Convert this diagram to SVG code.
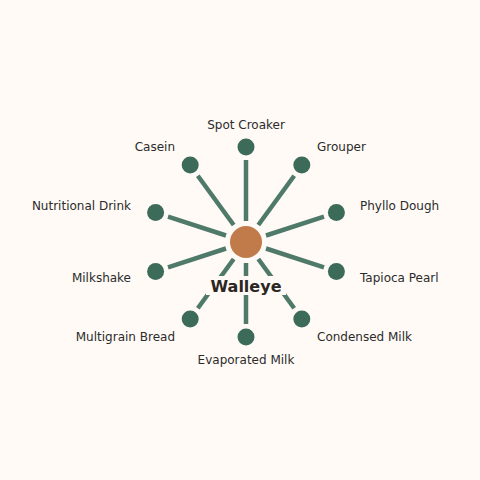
<svg xmlns="http://www.w3.org/2000/svg" width="480" height="480" viewBox="0 0 480 480">
<style>
.sp{stroke:#4f7a6a;stroke-width:4.5;stroke-linecap:butt}
.nd{fill:#3d6b5a}
.lb{font-family:"DejaVu Sans",sans-serif;font-size:12px;fill:#2b2b2b}
.ctr{font-family:"DejaVu Sans",sans-serif;font-size:16px;font-weight:bold;fill:#2b2622}
</style>
<rect width="480" height="480" fill="#fffaf6"/>
<g id="connectors">
<line class="sp" x1="246" y1="221" x2="246" y2="160"/>
<line class="sp" x1="258.3" y1="225" x2="294.2" y2="175.7"/>
<line class="sp" x1="266" y1="235.5" x2="324" y2="216.7"/>
<line class="sp" x1="266" y1="248.5" x2="324" y2="267.3"/>
<line class="sp" x1="258.3" y1="259" x2="294.2" y2="308.3"/>
<line class="sp" x1="246" y1="263" x2="246" y2="324"/>
<line class="sp" x1="233.7" y1="259" x2="197.8" y2="308.3"/>
<line class="sp" x1="226" y1="248.5" x2="168" y2="267.3"/>
<line class="sp" x1="226" y1="235.5" x2="168" y2="216.7"/>
<line class="sp" x1="233.7" y1="225" x2="197.8" y2="175.7"/>
</g>
<g id="center">
<circle cx="246" cy="242" r="16" fill="#c17b4a"/>
<rect x="206" y="276" width="80" height="19" fill="#fffaf6"/>
<text class="ctr" x="246" y="291.5" text-anchor="middle">Walleye</text>
</g>
<g id="n-spot-croaker"><circle class="nd" cx="246" cy="147" r="8.5"/><text class="lb" x="246" y="129" text-anchor="middle">Spot Croaker</text></g>
<g id="n-grouper"><circle class="nd" cx="301.8" cy="165.1" r="8.5"/><text class="lb" x="317" y="151">Grouper</text></g>
<g id="n-phyllo-dough"><circle class="nd" cx="336.4" cy="212.6" r="8.5"/><text class="lb" x="360" y="210">Phyllo Dough</text></g>
<g id="n-tapioca-pearl"><circle class="nd" cx="336.4" cy="271.4" r="8.5"/><text class="lb" x="360" y="282">Tapioca Pearl</text></g>
<g id="n-condensed-milk"><circle class="nd" cx="301.8" cy="318.9" r="8.5"/><text class="lb" x="317" y="341">Condensed Milk</text></g>
<g id="n-evaporated-milk"><circle class="nd" cx="246" cy="337" r="8.5"/><text class="lb" x="246" y="364" text-anchor="middle">Evaporated Milk</text></g>
<g id="n-multigrain-bread"><circle class="nd" cx="190.2" cy="318.9" r="8.5"/><text class="lb" x="175" y="341" text-anchor="end">Multigrain Bread</text></g>
<g id="n-milkshake"><circle class="nd" cx="155.6" cy="271.4" r="8.5"/><text class="lb" x="131" y="282" text-anchor="end">Milkshake</text></g>
<g id="n-nutritional-drink"><circle class="nd" cx="155.6" cy="212.6" r="8.5"/><text class="lb" x="131" y="210" text-anchor="end">Nutritional Drink</text></g>
<g id="n-casein"><circle class="nd" cx="190.2" cy="165.1" r="8.5"/><text class="lb" x="175" y="151" text-anchor="end">Casein</text></g>
</svg>
